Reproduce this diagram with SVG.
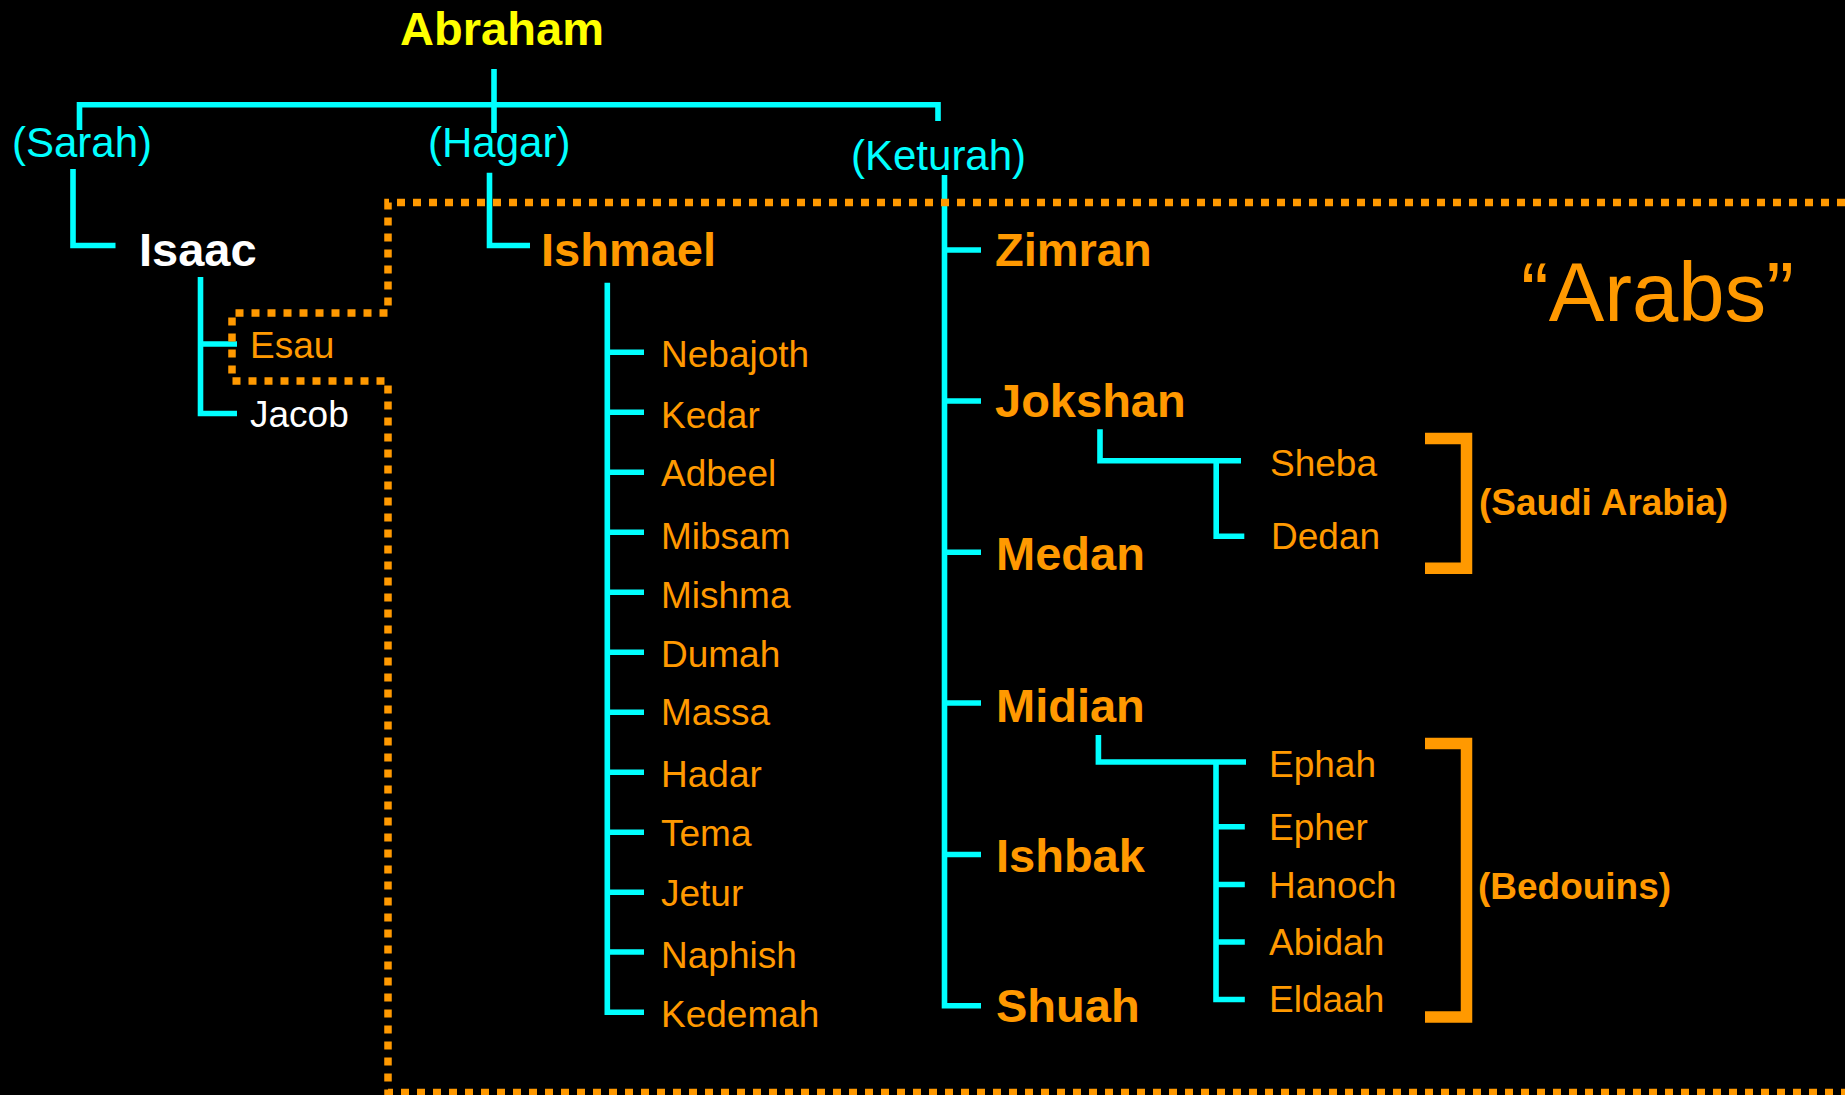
<svg xmlns="http://www.w3.org/2000/svg" width="1845" height="1095" viewBox="0 0 1845 1095">
<style>
text{font-family:"Liberation Sans",Arial,sans-serif}
.big{font-size:47px;font-weight:bold}
.sm{font-size:37px}
.wife{font-size:42px;fill:#00FFFF}
.or{fill:#FF9900}
.wh{fill:#FFFFFF}
.lbl{font-size:37px;font-weight:bold;fill:#FF9900}
.c{fill:none;stroke:#00FFFF;stroke-width:5.6}
.dot{fill:none;stroke:#FF9900;stroke-width:7.5;stroke-dasharray:8 8}
.br{fill:none;stroke:#FF9900;stroke-width:11.5}
</style>
<rect width="1845" height="1095" fill="#000"/>
<g id="connectors">
<path class="c" d="M494,69 V133"/>
<path class="c" d="M79.5,130 V104.8 H938 V121"/>
<path class="c" d="M73,169 V245.5 H115.5"/>
<path class="c" d="M489.5,172.7 V245.5 H530"/>
<path class="c" d="M200.5,277 V413.5 H237 M200.5,344 H237"/>
<path class="c" d="M607.3,282.7 V1012.3 H644 M607.3,352.2 H644 M607.3,412.2 H644 M607.3,472.2 H644 M607.3,532.2 H644 M607.3,592.2 H644 M607.3,652.2 H644 M607.3,712.3 H644 M607.3,772.3 H644 M607.3,832.3 H644 M607.3,892.3 H644 M607.3,952 H644"/>
<path class="c" d="M944.5,175 V1005.7 H981 M944.5,250 H981 M944.5,401 H981 M944.5,552.2 H981 M944.5,703 H981 M944.5,854.5 H981"/>
<path class="c" d="M1100,429.3 V460.7 H1241 M1216.2,460.7 V536.2 H1244.3"/>
<path class="c" d="M1098.4,735 V762 H1246 M1216,762 V999.5 H1244.8 M1216,826.7 H1244.8 M1216,884.5 H1244.8 M1216,942 H1244.8"/>
<path class="dot" d="M1845,202.5 H388 V313 H232 V381 H388 V1092.5 H1845"/>
<path class="br" d="M1425,438.5 H1466.5 V568.3 H1425"/>
<path class="br" d="M1425,743.5 H1466.5 V1017 H1425"/>
</g>
<g id="abraham"><text x="400" y="45" class="big" fill="#FFFF00" textLength="204">Abraham</text></g>
<g id="sarah"><text x="12" y="156.7" class="wife">(Sarah)</text></g>
<g id="hagar"><text x="428" y="156.7" class="wife">(Hagar)</text></g>
<g id="keturah"><text x="851" y="170" class="wife">(Keturah)</text></g>
<g id="isaac"><text x="139" y="265.7" class="big wh">Isaac</text></g>
<g id="esau"><text x="250" y="358" class="sm or">Esau</text></g>
<g id="jacob"><text x="250" y="426.7" class="sm wh">Jacob</text></g>
<g id="ishmael"><text x="541" y="265.7" class="big or">Ishmael</text></g>
<g id="nebajoth"><text x="661" y="366.7" class="sm or">Nebajoth</text></g>
<g id="kedar"><text x="661" y="427.5" class="sm or">Kedar</text></g>
<g id="adbeel"><text x="661" y="486" class="sm or">Adbeel</text></g>
<g id="mibsam"><text x="661" y="549.3" class="sm or">Mibsam</text></g>
<g id="mishma"><text x="661" y="607.7" class="sm or">Mishma</text></g>
<g id="dumah"><text x="661" y="667" class="sm or">Dumah</text></g>
<g id="massa"><text x="661" y="725" class="sm or">Massa</text></g>
<g id="hadar"><text x="661" y="786.7" class="sm or">Hadar</text></g>
<g id="tema"><text x="661" y="846" class="sm or">Tema</text></g>
<g id="jetur"><text x="661" y="906" class="sm or">Jetur</text></g>
<g id="naphish"><text x="661" y="967.7" class="sm or">Naphish</text></g>
<g id="kedemah"><text x="661" y="1026.7" class="sm or">Kedemah</text></g>
<g id="zimran"><text x="995" y="265.7" class="big or">Zimran</text></g>
<g id="jokshan"><text x="995" y="417.3" class="big or">Jokshan</text></g>
<g id="medan"><text x="996" y="570" class="big or">Medan</text></g>
<g id="midian"><text x="996" y="721.7" class="big or">Midian</text></g>
<g id="ishbak"><text x="996" y="872.3" class="big or">Ishbak</text></g>
<g id="shuah"><text x="996" y="1021.7" class="big or">Shuah</text></g>
<g id="sheba"><text x="1270" y="475.5" class="sm or">Sheba</text></g>
<g id="dedan"><text x="1271" y="549" class="sm or">Dedan</text></g>
<g id="ephah"><text x="1269" y="776.7" class="sm or">Ephah</text></g>
<g id="epher"><text x="1269" y="840" class="sm or">Epher</text></g>
<g id="hanoch"><text x="1269" y="897.7" class="sm or">Hanoch</text></g>
<g id="abidah"><text x="1269" y="955" class="sm or">Abidah</text></g>
<g id="eldaah"><text x="1269" y="1012.3" class="sm or">Eldaah</text></g>
<g id="saudi"><text x="1479" y="515" class="lbl" textLength="249" lengthAdjust="spacingAndGlyphs">(Saudi Arabia)</text></g>
<g id="bedouins"><text x="1478" y="899" class="lbl" textLength="193" lengthAdjust="spacingAndGlyphs">(Bedouins)</text></g>
<g id="arabs"><text x="1521" y="320.7" font-size="84" class="or" textLength="273" lengthAdjust="spacingAndGlyphs">“Arabs”</text></g>
</svg>
